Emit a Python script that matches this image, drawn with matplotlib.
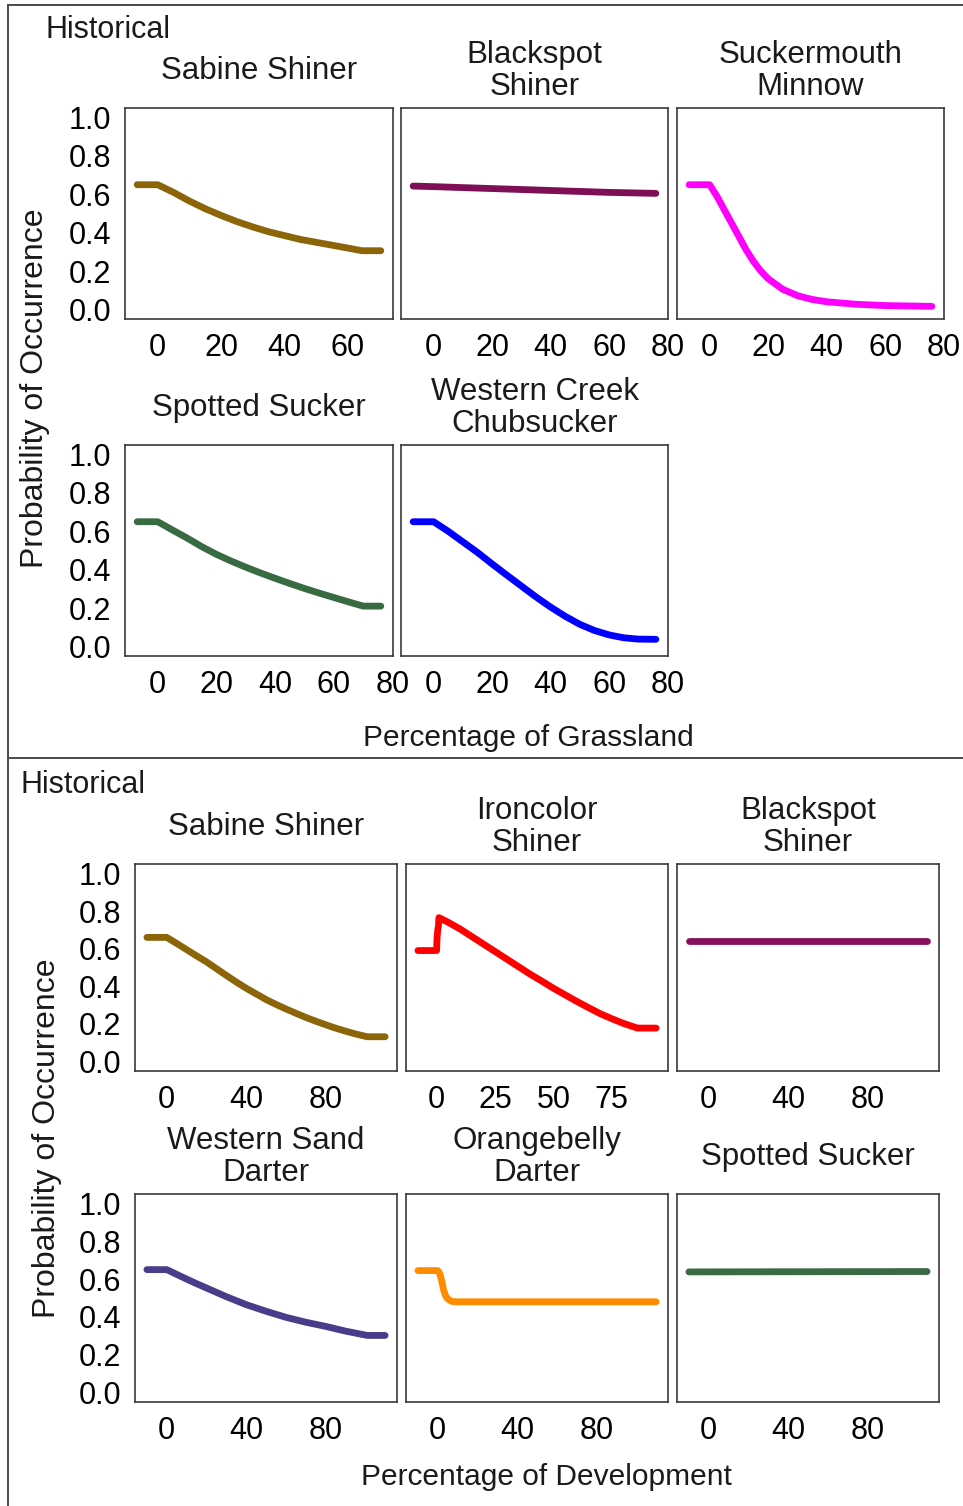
import matplotlib
matplotlib.use("Agg")
import matplotlib.pyplot as plt
from matplotlib.lines import Line2D

plt.rcParams['font.family'] = ['Liberation Sans', 'DejaVu Sans']

W, H = 963, 1506
DPI = 100

# ---------------- Grassland (historical) ----------------
g_sabine_x = [-6.5, 0, 5, 10, 15, 20, 25, 30, 35, 40, 45, 50, 55, 60, 64.5, 70.5]
g_sabine_y = [0.65, 0.65, 0.61, 0.565, 0.525, 0.49, 0.458, 0.43, 0.405, 0.385,
              0.365, 0.35, 0.335, 0.32, 0.306, 0.306]

g_blackspot_x = [-7, 0, 20, 40, 60, 76]
g_blackspot_y = [0.643, 0.64, 0.63, 0.62, 0.61, 0.605]

g_suckermouth_x = [-7, 0, 2.5, 5, 7.5, 10, 12.5, 15, 17.5, 20, 25, 30, 35, 40, 50, 60, 76]
g_suckermouth_y = [0.65, 0.65, 0.59, 0.52, 0.45, 0.38, 0.31, 0.25, 0.20, 0.16, 0.105,
                   0.072, 0.052, 0.04, 0.027, 0.02, 0.016]

g_spotted_x = [-7, 0, 5, 10, 15, 20, 25, 30, 35, 40, 45, 50, 55, 60, 65, 70, 76]
g_spotted_y = [0.65, 0.65, 0.607, 0.565, 0.52, 0.48, 0.445, 0.413, 0.383, 0.355,
               0.328, 0.302, 0.278, 0.255, 0.232, 0.21, 0.21]

g_chubsucker_x = [-7, 0, 5, 10, 15, 20, 25, 30, 35, 40, 45, 50, 55, 60, 65, 70, 76]
g_chubsucker_y = [0.65, 0.65, 0.60, 0.545, 0.49, 0.43, 0.372, 0.315, 0.258, 0.205,
                  0.157, 0.115, 0.083, 0.06, 0.045, 0.038, 0.037]

# ---------------- Development (historical) ----------------
d_sabine_x = [-10, 0, 5, 10, 15, 20, 25, 30, 35, 40, 45, 50, 55, 60, 65, 70, 75, 80,
              85, 90, 95, 101, 110]
d_sabine_y = [0.66, 0.66, 0.628, 0.595, 0.562, 0.53, 0.494, 0.458, 0.423, 0.39, 0.36,
              0.33, 0.304, 0.28, 0.257, 0.235, 0.215, 0.196, 0.178, 0.162, 0.147,
              0.132, 0.132]

d_ironcolor_x = [-8, 0, 0.2, 0.5, 0.8, 1, 5, 10, 15, 20, 25, 30, 35, 40, 45, 50, 55,
                 60, 65, 70, 75, 80, 86, 94]
d_ironcolor_y = [0.59, 0.59, 0.66, 0.70, 0.72, 0.765, 0.74, 0.705, 0.665, 0.625, 0.585,
                 0.545, 0.505, 0.465, 0.428, 0.39, 0.355, 0.32, 0.287, 0.255, 0.228,
                 0.203, 0.178, 0.178]

d_blackspot_x = [-10, 110]
d_blackspot_y = [0.64, 0.64]

d_sanddarter_x = [-10, 0, 5, 10, 15, 20, 25, 30, 40, 50, 60, 70, 80, 90, 101, 110]
d_sanddarter_y = [0.65, 0.65, 0.625, 0.60, 0.576, 0.553, 0.53, 0.507, 0.465, 0.43,
                  0.398, 0.372, 0.35, 0.325, 0.302, 0.302]

d_orangebelly_x = [-10, 0, 1, 2, 3, 4, 5, 7, 10, 110]
d_orangebelly_y = [0.645, 0.645, 0.63, 0.59, 0.54, 0.51, 0.495, 0.482, 0.48, 0.48]

d_spotted_x = [-10, 110]
d_spotted_y = [0.638, 0.64]

y_ticks = [0.0, 0.2, 0.4, 0.6, 0.8, 1.0]
y_ticklabels = ["0.0", "0.2", "0.4", "0.6", "0.8", "1.0"]

grass_panels = [
    # (title, x, y, colour, xticks, pixel box left, top, right, bottom, show y labels)
    ("Sabine Shiner", g_sabine_x, g_sabine_y, "#8B6508", [0, 20, 40, 60], (125, 108, 393, 319), True),
    ("Blackspot\nShiner", g_blackspot_x, g_blackspot_y, "#7E0E55", [0, 20, 40, 60, 80], (401, 108, 668, 319), False),
    ("Suckermouth\nMinnow", g_suckermouth_x, g_suckermouth_y, "#FF00FF", [0, 20, 40, 60, 80], (677, 108, 944, 319), False),
    ("Spotted Sucker", g_spotted_x, g_spotted_y, "#386B42", [0, 20, 40, 60, 80], (125, 445, 393, 656), True),
    ("Western Creek\nChubsucker", g_chubsucker_x, g_chubsucker_y, "#0000FF", [0, 20, 40, 60, 80], (401, 445, 668, 656), False),
]

dev_panels = [
    ("Sabine Shiner", d_sabine_x, d_sabine_y, "#8B6508", [0, 40, 80], (135, 864, 397, 1071), True),
    ("Ironcolor\nShiner", d_ironcolor_x, d_ironcolor_y, "#FF0000", [0, 25, 50, 75], (406, 864, 668, 1071), False),
    ("Blackspot\nShiner", d_blackspot_x, d_blackspot_y, "#87105E", [0, 40, 80], (677, 864, 939, 1071), False),
    ("Western Sand\nDarter", d_sanddarter_x, d_sanddarter_y, "#483D8B", [0, 40, 80], (135, 1194, 397, 1402), True),
    ("Orangebelly\nDarter", d_orangebelly_x, d_orangebelly_y, "#FF8C00", [0, 40, 80], (406, 1194, 668, 1402), False),
    ("Spotted Sucker", d_spotted_x, d_spotted_y, "#3A6B42", [0, 40, 80], (677, 1194, 939, 1402), False),
]

TICK_FS = 22
TITLE_FS = 22.5
LABEL_FS = 21.5
TEXT_COL = "#1a1a1a"
FRAME_COL = "#3a3a3a"

fig = plt.figure(figsize=(W / DPI, H / DPI), dpi=DPI)
fig.patch.set_facecolor("white")


def fx(px):
    return px / W


def fy(py):
    return 1 - py / H


def draw_panel(title, xs, ys, colour, xticks, box, show_y):
    l, t, r, b = box
    ax = fig.add_axes([fx(l), fy(b), (r - l) / W, (b - t) / H])
    ax.plot(xs, ys, color=colour, lw=4.9, solid_capstyle="round", solid_joinstyle="round")
    span = max(xs) - min(xs)
    ax.set_xlim(min(xs) - 0.05 * span, max(xs) + 0.05 * span)
    ax.set_ylim(-0.05, 1.05)
    ax.set_xticks(xticks)
    ax.set_xticklabels([str(v) for v in xticks])
    ax.set_yticks(y_ticks)
    if show_y:
        ax.set_yticklabels(y_ticklabels)
    else:
        ax.set_yticklabels([])
    ax.tick_params(length=0, labelsize=TICK_FS, colors="black")
    ax.tick_params(axis="x", pad=10)
    ax.tick_params(axis="y", pad=10)
    for s in ax.spines.values():
        s.set_color(FRAME_COL)
        s.set_linewidth(1.2)
    fig.text(fx((l + r) / 2), fy(t - 37), title, ha="center", va="center",
             fontsize=TITLE_FS, color=TEXT_COL, linespacing=1.05)
    return ax


for p in grass_panels:
    draw_panel(*p)
for p in dev_panels:
    draw_panel(*p)

# section headers and shared axis labels
fig.text(fx(45), fy(30), "Historical", ha="left", va="center", fontsize=22, color=TEXT_COL)
fig.text(fx(20), fy(785), "Historical", ha="left", va="center", fontsize=22, color=TEXT_COL)
fig.text(fx(35), fy(388), "Probability of Occurrence", rotation=90, ha="center", va="center",
         fontsize=23, color=TEXT_COL)
fig.text(fx(47), fy(1138), "Probability of Occurrence", rotation=90, ha="center", va="center",
         fontsize=23, color=TEXT_COL)
fig.text(fx(528), fy(738), "Percentage of Grassland", ha="center", va="center",
         fontsize=LABEL_FS, color=TEXT_COL)
fig.text(fx(546), fy(1477), "Percentage of Development", ha="center", va="center",
         fontsize=LABEL_FS, color=TEXT_COL)

# outer frame and divider between the two sections
border = dict(color="#4a4a4a", lw=1.4, transform=fig.transFigure)
fig.add_artist(Line2D([fx(8), fx(963)], [fy(5), fy(5)], **border))
fig.add_artist(Line2D([fx(8), fx(8)], [fy(5), fy(1506)], **border))
fig.add_artist(Line2D([fx(8), fx(963)], [fy(758), fy(758)], **border))

fig.savefig("out.png", dpi=DPI, facecolor="white")
